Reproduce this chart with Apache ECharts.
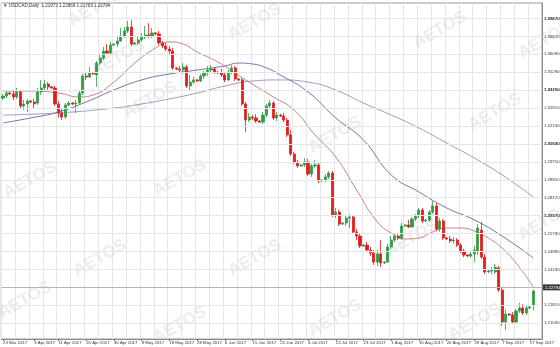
<!DOCTYPE html>
<html><head><meta charset="utf-8">
<script src="https://cdn.jsdelivr.net/npm/echarts@6/dist/echarts.min.js"></script>
<style>html,body{margin:0;padding:0;background:#fff}#c{width:560px;height:347px}</style>
</head><body><div id="c"></div>
<script>
const opens=[1.3356,1.3367,1.3384,1.3379,1.3362,1.3390,1.3312,1.3323,1.3339,1.3334,1.3328,1.3390,1.3412,1.3434,1.3418,1.3412,1.3323,1.3273,1.3250,1.3317,1.3328,1.3323,1.3328,1.3384,1.3479,1.3473,1.3496,1.3485,1.3551,1.3579,1.3618,1.3607,1.3652,1.3657,1.3674,1.3702,1.3730,1.3752,1.3657,1.3663,1.3680,1.3696,1.3708,1.3702,1.3719,1.3713,1.3663,1.3646,1.3629,1.3618,1.3524,1.3518,1.3512,1.3529,1.3423,1.3445,1.3457,1.3451,1.3479,1.3496,1.3512,1.3518,1.3501,1.3496,1.3485,1.3457,1.3501,1.3524,1.3462,1.3457,1.3323,1.3233,1.3250,1.3245,1.3228,1.3222,1.3261,1.3312,1.3328,1.3245,1.3261,1.3256,1.3233,1.3150,1.3044,1.2999,1.2977,1.2983,1.2999,1.2932,1.2977,1.2983,1.2893,1.2899,1.2916,1.2938,1.2704,1.2720,1.2653,1.2659,1.2687,1.2692,1.2609,1.2586,1.2531,1.2536,1.2508,1.2491,1.2441,1.2486,1.2436,1.2441,1.2525,1.2564,1.2586,1.2575,1.2642,1.2648,1.2637,1.2681,1.2698,1.2731,1.2670,1.2676,1.2720,1.2754,1.2626,1.2670,1.2575,1.2570,1.2559,1.2564,1.2536,1.2503,1.2480,1.2475,1.2486,1.2497,1.2620,1.2469,1.2386,1.2391,1.2386,1.2408,1.2285,1.2107,1.2151,1.2146,1.2107,1.2168,1.2185,1.2157,1.2185,1.21973];
const closes=[1.3367,1.3384,1.3379,1.3362,1.3390,1.3312,1.3323,1.3339,1.3334,1.3323,1.3390,1.3412,1.3434,1.3418,1.3412,1.3323,1.3273,1.3250,1.3317,1.3328,1.3323,1.3328,1.3384,1.3479,1.3473,1.3496,1.3490,1.3551,1.3579,1.3618,1.3607,1.3652,1.3657,1.3674,1.3702,1.3730,1.3752,1.3657,1.3663,1.3680,1.3696,1.3708,1.3702,1.3719,1.3713,1.3663,1.3646,1.3629,1.3618,1.3524,1.3518,1.3512,1.3529,1.3423,1.3445,1.3457,1.3451,1.3479,1.3496,1.3512,1.3518,1.3501,1.3496,1.3485,1.3457,1.3501,1.3524,1.3462,1.3457,1.3323,1.3233,1.3250,1.3245,1.3228,1.3222,1.3261,1.3312,1.3328,1.3245,1.3261,1.3256,1.3233,1.3150,1.3044,1.2999,1.2977,1.2983,1.2999,1.2932,1.2977,1.2983,1.2893,1.2899,1.2916,1.2938,1.2704,1.2720,1.2653,1.2659,1.2687,1.2692,1.2609,1.2586,1.2531,1.2536,1.2508,1.2491,1.2441,1.2486,1.2436,1.2441,1.2525,1.2564,1.2586,1.2575,1.2642,1.2648,1.2637,1.2681,1.2698,1.2731,1.2670,1.2676,1.2720,1.2754,1.2626,1.2670,1.2575,1.2570,1.2559,1.2564,1.2536,1.2503,1.2480,1.2475,1.2486,1.2508,1.2631,1.2469,1.2386,1.2391,1.2397,1.2413,1.2285,1.2107,1.2151,1.2146,1.2107,1.2168,1.2185,1.2157,1.2185,1.2190,1.22794];
const lows=[1.3345,1.3356,1.3373,1.3345,1.3351,1.3300,1.3289,1.3278,1.3328,1.3300,1.3317,1.3373,1.3395,1.3401,1.3406,1.3312,1.3245,1.3233,1.3239,1.3312,1.3317,1.3273,1.3323,1.3373,1.3457,1.3468,1.3485,1.3418,1.3540,1.3568,1.3596,1.3596,1.3646,1.3641,1.3669,1.3691,1.3719,1.3646,1.3652,1.3652,1.3669,1.3685,1.3691,1.3691,1.3708,1.3652,1.3635,1.3618,1.3596,1.3512,1.3512,1.3496,1.3490,1.3412,1.3401,1.3434,1.3445,1.3445,1.3462,1.3479,1.3501,1.3490,1.3490,1.3473,1.3445,1.3451,1.3490,1.3451,1.3451,1.3312,1.3166,1.3222,1.3233,1.3217,1.3217,1.3211,1.3250,1.3300,1.3233,1.3228,1.3250,1.3222,1.3139,1.3033,1.2988,1.2966,1.2971,1.2971,1.2921,1.2916,1.2966,1.2882,1.2888,1.2888,1.2904,1.2692,1.2687,1.2642,1.2648,1.2642,1.2631,1.2598,1.2564,1.2519,1.2525,1.2497,1.2475,1.2425,1.2419,1.2413,1.2430,1.2436,1.2514,1.2553,1.2564,1.2564,1.2637,1.2631,1.2631,1.2670,1.2687,1.2659,1.2665,1.2665,1.2709,1.2614,1.2609,1.2564,1.2564,1.2547,1.2542,1.2525,1.2491,1.2469,1.2469,1.2464,1.2441,1.2480,1.2458,1.2375,1.2380,1.2375,1.2375,1.2274,1.2084,1.2062,1.2140,1.2095,1.2095,1.2157,1.2146,1.2146,1.2179,1.21703];
const highs=[1.3379,1.3401,1.3390,1.3401,1.3412,1.3401,1.3345,1.3351,1.3345,1.3351,1.3412,1.3457,1.3457,1.3445,1.3423,1.3423,1.3339,1.3300,1.3328,1.3339,1.3334,1.3345,1.3395,1.3490,1.3496,1.3529,1.3501,1.3563,1.3596,1.3641,1.3657,1.3669,1.3663,1.3702,1.3747,1.3752,1.3786,1.3791,1.3669,1.3702,1.3719,1.3758,1.3774,1.3747,1.3724,1.3730,1.3674,1.3663,1.3646,1.3635,1.3529,1.3535,1.3551,1.3540,1.3485,1.3473,1.3462,1.3490,1.3507,1.3535,1.3540,1.3529,1.3507,1.3518,1.3496,1.3512,1.3540,1.3535,1.3468,1.3468,1.3334,1.3273,1.3261,1.3267,1.3233,1.3278,1.3323,1.3345,1.3339,1.3278,1.3267,1.3273,1.3245,1.3178,1.3055,1.3010,1.2988,1.3021,1.3016,1.2988,1.3010,1.2999,1.2904,1.2932,1.2949,1.2949,1.2743,1.2731,1.2665,1.2704,1.2709,1.2704,1.2626,1.2603,1.2542,1.2553,1.2525,1.2508,1.2508,1.2564,1.2447,1.2542,1.2586,1.2598,1.2598,1.2659,1.2653,1.2676,1.2692,1.2709,1.2743,1.2743,1.2681,1.2731,1.2782,1.2770,1.2687,1.2681,1.2581,1.2586,1.2581,1.2575,1.2547,1.2514,1.2486,1.2503,1.2531,1.2653,1.2665,1.2486,1.2397,1.2413,1.2430,1.2419,1.2296,1.2174,1.2157,1.2162,1.2179,1.2213,1.2207,1.2201,1.2196,1.22869];

const fastBars=[0,8,16,22,26,32,38,44,48,52,56,62,70,78,84,90,96,102,108,112,116,120,124,128,132,136,140,144,148,153];
const fastVals=[1.3395,1.3395,1.3384,1.3362,1.3373,1.3445,1.3551,1.3635,1.3669,1.3657,1.3613,1.3557,1.3457,1.3362,1.3289,1.3150,1.3027,1.2843,1.2665,1.2603,1.2570,1.2575,1.2609,1.2631,1.2631,1.2614,1.2575,1.2519,1.2436,1.2302];
const midBars=[0,8,16,24,32,40,48,56,64,68,72,76,80,88,96,104,112,120,128,136,144,153];
const midVals=[1.3217,1.3245,1.3278,1.3334,1.3401,1.3457,1.3490,1.3512,1.3535,1.3551,1.3546,1.3524,1.3485,1.3390,1.3245,1.3122,1.2927,1.2832,1.2743,1.2676,1.2586,1.2464];
const slowBars=[0,16,32,40,48,56,64,72,80,88,96,104,112,120,128,136,144,153];
const slowVals=[1.3261,1.3273,1.3300,1.3323,1.3351,1.3384,1.3423,1.3451,1.3457,1.3445,1.3401,1.3328,1.3261,1.3189,1.3105,1.3021,1.2927,1.2804];

const yTickLabels=['1.38470','1.37670','1.36870','1.36090','1.35290','1.34490','1.33710','1.32910','1.32130','1.31330','1.30530','1.29750','1.28950','1.28170','1.27370','1.26570','1.25790','1.24990','1.24190','1.23410','1.21810','1.21030','1.20230'];
const xTickLabels=['23 Mar 2017','3 Apr 2017','11 Apr 2017','20 Apr 2017','30 Apr 2017','9 May 2017','18 May 2017','28 May 2017','6 Jun 2017','15 Jun 2017','25 Jun 2017','4 Jul 2017','13 Jul 2017','23 Jul 2017','1 Aug 2017','10 Aug 2017','20 Aug 2017','29 Aug 2017','7 Sep 2017','17 Sep 2017'];
const symbolTitle='USDCAD,Daily';
const lastQuote=['1.21973','1.22869','1.21703','1.22794'];

// trading-day categories (MT4 daily bars: Sun-Fri)
const months=['Jan','Feb','Mar','Apr','May','Jun','Jul','Aug','Sep','Oct','Nov','Dec'];
const categories=[];
(function(){let t=Date.UTC(2017,2,23);while(categories.length<opens.length){const d=new Date(t);if(d.getUTCDay()!==6)categories.push(d.getUTCDate()+' '+months[d.getUTCMonth()]+' '+d.getUTCFullYear());t+=86400000;}})();
const axisCats=categories.concat(['\u200b','\u200b\u200b']);
const labelIdx=new Set(xTickLabels.map(s=>categories.indexOf(s)));

const wm=[[95,8],[255,22],[440,30],[545,40],[118,58],[335,135],[495,112],[150,100],[30,180],[180,178],[100,258],[255,258],[412,238],[545,222],[180,325],[335,318],[475,322],[25,300]];

const chart=echarts.init(document.getElementById('c'),null,{renderer:'canvas'});
const F='Liberation Sans, Arial, sans-serif';
chart.setOption({
  animation:false,
  backgroundColor:'#ffffff',
  grid:{left:1,right:18,top:3,bottom:8,show:true,borderColor:'#9a9a9a',borderWidth:1,backgroundColor:'transparent'},
  xAxis:{type:'category',data:axisCats,boundaryGap:true,
    axisLine:{show:true,lineStyle:{color:'#8a8a8a',width:1}},
    axisTick:{show:true,interval:(i)=>labelIdx.has(i),length:2,alignWithLabel:true,lineStyle:{color:'#777'}},
    axisLabel:{interval:(i)=>labelIdx.has(i),align:'left',fontSize:4.3,color:'#333',margin:1.5,fontFamily:F},
    splitLine:{show:true,interval:(i)=>i%4===0,lineStyle:{color:'#e6e6e6',width:1}}},
  yAxis:{type:'value',position:'right',min:1.20119,max:1.38861,scale:true,
    axisLine:{show:true,lineStyle:{color:'#8a8a8a'}},axisTick:{show:false},axisLabel:{show:false},splitLine:{show:false}},
  graphic:[
    ...wm.map(p=>({type:'text',x:p[0],y:p[1],rotation:Math.PI/6,z:1,silent:true,
      style:{text:'AETOS',fill:'rgba(185,185,185,0.25)',font:'bold 17px '+F,textAlign:'center',textVerticalAlign:'middle'}})),
    {type:'text',left:3,top:3,z:10,style:{text:'\u25BC '+symbolTitle+'  '+lastQuote.join(' '),fill:'#333',font:'4.5px '+F}}
  ],
  series:[
    {type:'line',z:0,data:[],silent:true,
      markLine:{silent:true,symbol:'none',animation:false,
        lineStyle:{color:'#e6e6e6',width:1,type:'solid'},
        label:{position:'end',distance:2,formatter:p=>p.name,fontSize:4.3,color:'#333',fontFamily:F},
        data:yTickLabels.map(s=>({name:s,yAxis:parseFloat(s)}))}},
    {type:'line',name:'MA slow',z:2,data:slowBars.map((b,i)=>[b,slowVals[i]]),smooth:0.5,showSymbol:false,lineStyle:{color:'#a797c9',width:1}},
    {type:'line',name:'MA mid',z:2,data:midBars.map((b,i)=>[b,midVals[i]]),smooth:0.5,showSymbol:false,lineStyle:{color:'#7474ad',width:1}},
    {type:'line',name:'MA fast',z:2,data:fastBars.map((b,i)=>[b,fastVals[i]]),smooth:0.5,showSymbol:false,lineStyle:{color:'#c9808a',width:1}},
    {type:'candlestick',z:3,barWidth:2.6,
      data:opens.map((o,i)=>[o,closes[i],lows[i],highs[i]]),
      itemStyle:{color:'#2e9e45',color0:'#e31d1d',borderColor:'#2e9e45',borderColor0:'#e31d1d',borderWidth:0.8}},
    {type:'line',z:5,data:[],silent:true,
      markLine:{silent:true,symbol:'none',animation:false,
        lineStyle:{color:'#b5b5b5',width:1,type:'solid'},
        label:{position:'end',distance:1,formatter:p=>p.name,fontSize:4.3,color:'#fff',backgroundColor:'#3a3a3a',padding:[1,2],fontFamily:F},
        data:[{name:lastQuote[3],yAxis:parseFloat(lastQuote[3])}]}}
  ]
});
</script></body></html>
